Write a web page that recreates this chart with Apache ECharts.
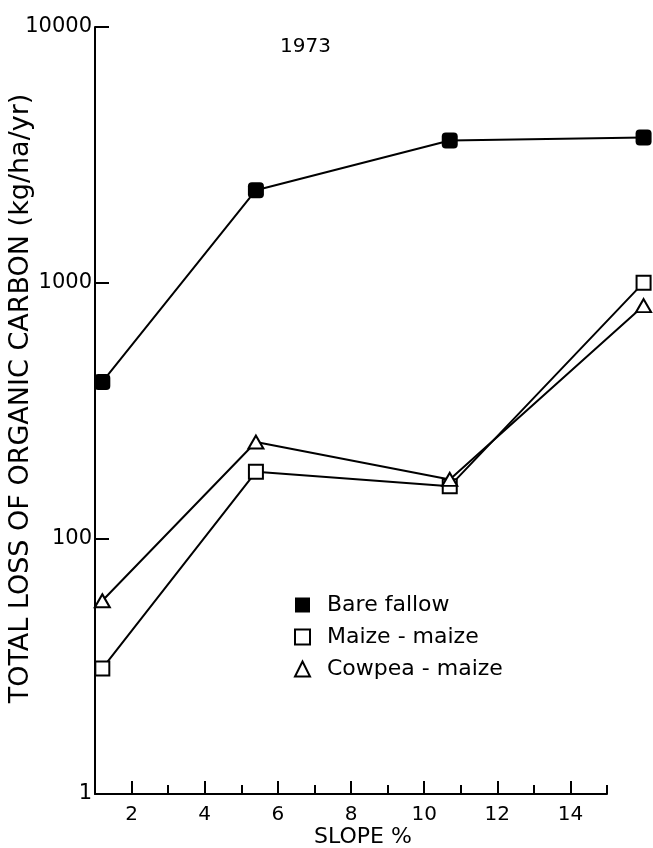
<!DOCTYPE html>
<html>
<head>
<meta charset="utf-8">
<script src="https://cdn.jsdelivr.net/npm/echarts@6/dist/echarts.min.js"></script>
<style>
  html, body { margin: 0; padding: 0; background: #fff; }
  #chart { width: 653px; height: 848px; }
</style>
</head>
<body>
<div id="chart"></div>
<script>
// Slope (%) of each plot, shared by all treatments
const slopes = [1.2, 5.4, 10.7, 16.0];

// Total loss of organic carbon, kg/ha/yr
const bareFallow = [409, 2300, 3600, 3700];
const maizeMaize = [31, 182, 160, 1000];
const cowpeaMaize = [57, 238, 170, 813];

// Axis ticks
const xMajorTicks = [2, 4, 6, 8, 10, 12, 14];
const xMinorTicks = [3, 5, 7, 9, 11, 13, 15];
const yTickValues = [10, 100, 1000, 10000];
const yTickLabels = ['1', '100', '1000', '10000'];

const FONT = 'DejaVu Sans';
const pairs = ys => slopes.map((x, i) => [x, ys[i]]);

// The drawn slope axis runs 1..15; the plotting area runs a little further
// right so the last plots can sit past the end of the axis line.
const AXIS_LEFT = 95, AXIS_RIGHT = 607, W = 653;
const X_MIN = 1, X_MAX = 15, X_PLOT_MAX = 16.3;
const pxPerUnit = (AXIS_RIGHT - AXIS_LEFT) / (X_MAX - X_MIN);
const plotRight = W - (AXIS_LEFT + (X_PLOT_MAX - X_MIN) * pxPerUnit);

const chart = echarts.init(document.getElementById('chart'));
const black = { color: '#000', width: 2 };
const lineStyle = { color: '#000', width: 2 };

chart.setOption({
  animation: false,
  backgroundColor: '#fff',
  grid: [
    { left: AXIS_LEFT, right: plotRight, top: 27, bottom: 54, outerBoundsMode: 'none', containLabel: false },
    { left: AXIS_LEFT, right: W - AXIS_RIGHT, top: 27, bottom: 54, outerBoundsMode: 'none', containLabel: false }
  ],
  graphic: [{
    type: 'text',
    left: 280, top: 37,
    style: { text: '1973', fontFamily: FONT, fontSize: 20, fill: '#000' }
  }],
  legend: {
    orient: 'vertical',
    left: 289, top: 589,
    itemGap: 10,
    itemWidth: 15, itemHeight: 15,
    textStyle: { fontFamily: FONT, fontSize: 22, color: '#000', padding: [0, 0, 0, 12] },
    data: [
      { name: 'Bare fallow', icon: 'rect' },
      { name: 'Maize - maize', icon: 'rect' },
      { name: 'Cowpea - maize', icon: 'triangle' }
    ]
  },
  xAxis: [{
    // plotting scale (not drawn)
    gridIndex: 0,
    type: 'value',
    min: X_MIN, max: X_PLOT_MAX,
    show: false
  }, {
    // drawn slope axis
    gridIndex: 1,
    type: 'value',
    min: X_MIN, max: X_MAX, interval: 1,
    name: 'SLOPE %',
    nameLocation: 'middle',
    nameGap: 32,
    nameMoveOverlap: false,
    nameTextStyle: { fontFamily: FONT, fontSize: 22, color: '#000', padding: [0, 0, 0, 24] },
    axisLine: { lineStyle: black },
    axisTick: { inside: true, length: 13, customValues: xMajorTicks, lineStyle: black },
    axisLabel: {
      customValues: xMajorTicks,
      fontFamily: FONT, fontSize: 20, color: '#000', margin: 11
    },
    splitLine: { show: false }
  }, {
    // odd-valued minor ticks on the same line
    gridIndex: 1,
    type: 'value',
    min: X_MIN, max: X_MAX, interval: 1,
    position: 'bottom',
    axisLine: { show: false },
    axisTick: { inside: true, length: 9, customValues: xMinorTicks, lineStyle: black },
    axisLabel: { show: false },
    splitLine: { show: false }
  }],
  yAxis: [{
    gridIndex: 0,
    type: 'log',
    logBase: 10,
    min: 10, max: 10000,
    name: 'TOTAL LOSS OF ORGANIC CARBON (kg/ha/yr)',
    nameLocation: 'middle',
    nameGap: 61,
    nameMoveOverlap: false,
    nameTextStyle: { fontFamily: FONT, fontSize: 27, color: '#000', padding: [0, 0, 0, 24] },
    axisLine: { lineStyle: black },
    axisTick: { inside: true, length: 14, customValues: [100, 1000, 10000], lineStyle: black },
    axisLabel: {
      customValues: yTickValues,
      formatter: v => yTickLabels[yTickValues.indexOf(Math.round(v))] || '',
      fontFamily: FONT, fontSize: 21, color: '#000', margin: 3
    },
    splitLine: { show: false }
  }, {
    gridIndex: 1,
    type: 'log',
    logBase: 10,
    min: 10, max: 10000,
    show: false
  }],
  series: [{
    name: 'Bare fallow',
    type: 'line',
    clip: false,
    data: pairs(bareFallow),
    symbol: 'roundRect',
    symbolSize: 16,
    itemStyle: { color: '#000' },
    lineStyle
  }, {
    name: 'Maize - maize',
    type: 'line',
    clip: false,
    data: pairs(maizeMaize),
    symbol: 'rect',
    symbolSize: 14,
    itemStyle: { color: '#fff', borderColor: '#000', borderWidth: 2 },
    lineStyle
  }, {
    name: 'Cowpea - maize',
    type: 'line',
    clip: false,
    data: pairs(cowpeaMaize),
    symbol: 'triangle',
    symbolSize: [15, 13],
    itemStyle: { color: '#fff', borderColor: '#000', borderWidth: 2 },
    lineStyle
  }]
});
</script>
</body>
</html>
